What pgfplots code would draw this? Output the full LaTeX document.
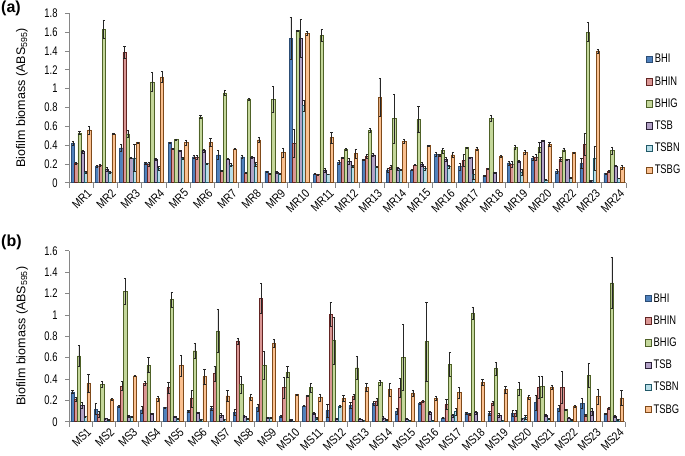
\documentclass[border=0pt]{standalone}
\usepackage{graphicx}
\usepackage{pgfplots}
\usepackage{pgfplotstable}
\pgfplotsset{compat=1.18}
\usepackage{fontspec}
\setmainfont{Liberation Sans}

\definecolor{cA}{HTML}{4F81BD}\definecolor{dA}{HTML}{2C4D75}
\definecolor{cB}{HTML}{DA9694}\definecolor{dB}{HTML}{632523}
\definecolor{cC}{HTML}{C4D79B}\definecolor{dC}{HTML}{4F6228}
\definecolor{cD}{HTML}{B3A2C7}\definecolor{dD}{HTML}{2A2036}
\definecolor{cE}{HTML}{B7DEE8}\definecolor{dE}{HTML}{215968}
\definecolor{cF}{HTML}{FAC090}\definecolor{dF}{HTML}{7F4A1A}
\definecolor{axgray}{HTML}{868686}

% panel (a): MR1..MR20, MR22, MR23, MR24
\pgfplotstableread{
x a ea b eb c ec d ed e ee f ef
0  0.420 0.020 0.205 0.010 0.530 0.020 0.330 0.020 0.110 0.010 0.560 0.040
1  0.177 0.010 0.190 0.010 1.630 0.100 0.145 0.020 0.115 0.010 0.520 0.010
2  0.370 0.040 1.385 0.060 0.520 0.040 0.265 0.010 0.265 0.140 0.425 0.010
3  0.205 0.010 0.200 0.020 1.070 0.100 0.245 0.010 0.150 0.020 1.125 0.060
4  0.425 0.010 0.365 0.005 0.460 0.005 0.340 0.010 0.260 0.010 0.425 0.030
5  0.275 0.020 0.270 0.020 0.700 0.020 0.340 0.020 0.205 0.005 0.430 0.040
6  0.295 0.050 0.130 0.005 0.955 0.030 0.250 0.005 0.190 0.020 0.360 0.005
7  0.275 0.020 0.105 0.005 0.890 0.010 0.270 0.010 0.200 0.020 0.455 0.030
8  0.120 0.005 0.100 0.005 0.885 0.140 0.113 0.010 0.095 0.005 0.320 0.050
9  1.537 0.220 0.420 0.150 1.615 0.010 1.537 0.200 0.820 0.060 1.587 0.020
10 0.095 0.010 0.085 0.005 1.566 0.060 0.130 0.020 0.090 0.005 0.480 0.060
11 0.216 0.020 0.270 0.005 0.354 0.010 0.227 0.030 0.173 0.010 0.310 0.050
12 0.244 0.010 0.283 0.020 0.560 0.020 0.297 0.020 0.173 0.005 0.907 0.200
13 0.135 0.020 0.163 0.020 0.684 0.260 0.149 0.020 0.138 0.005 0.443 0.020
14 0.135 0.005 0.188 0.005 0.673 0.140 0.198 0.020 0.152 0.020 0.393 0.005
15 0.300 0.020 0.294 0.010 0.340 0.030 0.248 0.020 0.170 0.020 0.297 0.030
16 0.170 0.040 0.237 0.060 0.372 0.005 0.270 0.005 0.090 0.050 0.360 0.020
17 0.070 0.005 0.152 0.005 0.684 0.030 0.106 0.010 0.005 0.000 0.280 0.010
18 0.210 0.020 0.195 0.030 0.375 0.020 0.227 0.010 0.110 0.030 0.322 0.020
19 0.260 0.020 0.270 0.030 0.375 0.050 0.450 0.005 0.030 0.005 0.407 0.020
20 0.120 0.020 0.248 0.020 0.350 0.020 0.248 0.005 0.053 0.005 0.320 0.005
21 0.205 0.050 0.407 0.120 1.600 0.100 0.025 0.005 0.260 0.130 1.400 0.020
22 0.100 0.005 0.124 0.010 0.340 0.040 0.178 0.005 0.047 0.005 0.163 0.020
}\tableA

% panel (b): MS1..MS24
\pgfplotstableread{
x a ea b eb c ec d ed e ee f ef
0  0.280 0.010 0.210 0.020 0.615 0.100 0.156 0.030 0.047 0.005 0.360 0.080
1  0.118 0.050 0.070 0.030 0.352 0.030 0.030 0.005 0.015 0.005 0.210 0.010
2  0.143 0.010 0.334 0.040 1.222 0.120 0.047 0.010 0.044 0.005 0.430 0.005
3  0.112 0.030 0.362 0.020 0.530 0.070 0.075 0.005 0.006 0.002 0.215 0.020
4  0.131 0.005 0.320 0.050 1.145 0.070 0.047 0.005 0.030 0.005 0.524 0.100
5  0.094 0.010 0.215 0.080 0.664 0.070 0.084 0.005 0.022 0.005 0.424 0.070
6  0.125 0.020 0.450 0.070 0.850 0.200 0.062 0.020 0.019 0.005 0.243 0.050
7  0.087 0.030 0.752 0.030 0.346 0.080 0.053 0.010 0.030 0.005 0.230 0.030
8  0.131 0.030 1.154 0.140 0.530 0.130 0.040 0.005 0.037 0.005 0.733 0.040
9  0.050 0.010 0.318 0.100 0.465 0.050 0.019 0.005 0.006 0.002 0.256 0.005
10 0.147 0.005 0.246 0.005 0.320 0.040 0.078 0.010 0.030 0.010 0.225 0.030
11 0.106 0.060 1.007 0.110 0.758 0.220 0.028 0.005 0.147 0.010 0.218 0.030
12 0.153 0.030 0.234 0.020 0.505 0.110 0.025 0.005 0.010 0.003 0.321 0.040
13 0.172 0.020 0.187 0.030 0.365 0.020 0.037 0.010 0.015 0.005 0.300 0.060
14 0.097 0.030 0.315 0.090 0.602 0.310 0.025 0.005 0.012 0.003 0.268 0.030
15 0.172 0.010 0.193 0.010 0.752 0.370 0.084 0.010 0.012 0.003 0.218 0.020
16 0.037 0.005 0.162 0.050 0.536 0.110 0.056 0.010 0.094 0.030 0.274 0.050
17 0.078 0.010 0.066 0.010 1.014 0.060 0.084 0.010 0.003 0.001 0.368 0.030
18 0.081 0.020 0.175 0.020 0.496 0.060 0.062 0.020 0.012 0.003 0.300 0.030
19 0.078 0.030 0.078 0.030 0.306 0.060 0.030 0.005 0.040 0.020 0.228 0.020
20 0.181 0.070 0.321 0.100 0.328 0.100 0.059 0.010 0.028 0.005 0.321 0.020
21 0.125 0.030 0.321 0.150 0.115 0.005 0.037 0.005 0.015 0.005 0.143 0.010
22 0.172 0.050 0.059 0.010 0.434 0.110 0.094 0.030 0.006 0.002 0.237 0.070
23 0.075 0.005 0.122 0.010 1.300 0.240 0.053 0.010 0.020 0.005 0.224 0.070
}\tableB

\newcommand{\sq}[1]{\scalebox{0.75}[1]{#1}}
\newcommand{\sx}[1]{\scalebox{0.85}[1]{#1}}

\pgfplotsset{
  panel/.style={
    scale only axis, anchor=south west,
    ybar=0pt,
    ymin=0,
    axis x line*=bottom, axis y line*=left,
    axis line style={draw=axgray, line width=0.6pt},
    every tick/.style={draw=axgray, line width=0.6pt},
    tick align=outside,
    major tick length=4pt, minor tick length=5pt,
    major x tick style={draw=none},
    xtick=data,
    xticklabel style={rotate=45, anchor=east, font=\fontsize{12}{12}\selectfont, inner sep=1pt, xshift=4pt, yshift=-9pt},
    yticklabel style={font=\fontsize{12.5}{12}\selectfont, xshift=-4pt},
    yticklabel={\sq{\pgfmathprintnumber{\tick}}},
    /pgf/number format/assume math mode=true,
    ylabel={Biofilm biomass (ABS\textsubscript{595})},
    ylabel style={font=\fontsize{12.5}{12}\selectfont, at={(axis description cs:-0.0845,0.5)}, anchor=center},
    legend style={draw=none, fill=none, anchor=west,
      font=\fontsize{12.5}{12}\selectfont, row sep=8pt,
      /tikz/every even column/.append style={column sep=1pt}},
    legend cell align=left,
  },
  sqi/.style={legend image code/.code={\draw[##1] (0pt,-3.2pt) rectangle (6.4pt,3.2pt);}},
  eb/.style={error bars/.cd, y dir=both, y explicit,
    error bar style={black!85, line width=0.55pt},
    error mark options={rotate=90, mark size=1.1pt, black!85, line width=0.5pt}},
  sA/.style={fill=cA, draw=dA, line width=0.45pt, sqi, eb},
  sB/.style={fill=cB, draw=dB, line width=0.45pt, sqi, eb},
  sC/.style={fill=cC, draw=dC, line width=0.45pt, sqi, eb},
  sD/.style={fill=cD, draw=dD, line width=0.45pt, sqi, eb},
  sE/.style={fill=cE, draw=dE, line width=0.45pt, sqi, eb},
  sF/.style={fill=cF, draw=dF, line width=0.45pt, sqi, eb},
}

\begin{document}
\begin{tikzpicture}[x=1pt,y=1pt]
\useasboundingbox (0,0) rectangle (685,455);

\node[anchor=north west, inner sep=0pt, font=\bfseries\fontsize{16}{16}\selectfont] at (1,454) {(a)};
\node[anchor=north west, inner sep=0pt, font=\bfseries\fontsize{16}{16}\selectfont] at (1,220) {(b)};

\begin{axis}[panel,
  at={(69pt,272.3pt)}, width=557pt, height=169.4pt,
  bar width=3.3pt,
  xmin=-0.5, xmax=22.5, ymax=1.8,
  ytick={0,0.2,...,1.8},
  minor xtick={-0.5,0.5,...,22.5},
  xticklabels={\sx{MR1},\sx{MR2},\sx{MR3},\sx{MR4},\sx{MR5},\sx{MR6},\sx{MR7},\sx{MR8},\sx{MR9},\sx{MR10},\sx{MR11},\sx{MR12},\sx{MR13},\sx{MR14},\sx{MR15},\sx{MR16},\sx{MR17},\sx{MR18},\sx{MR19},\sx{MR20},\sx{MR22},\sx{MR23},\sx{MR24}},
  legend style={at={(1.03,0.40)}},
]
\addplot[sA] table[x=x,y=a,y error=ea]{\tableA};
\addplot[sB] table[x=x,y=b,y error=eb]{\tableA};
\addplot[sC] table[x=x,y=c,y error=ec]{\tableA};
\addplot[sD] table[x=x,y=d,y error=ed]{\tableA};
\addplot[sE] table[x=x,y=e,y error=ee]{\tableA};
\addplot[sF] table[x=x,y=f,y error=ef]{\tableA};
\legend{\sq{BHI},\sq{BHIN},\sq{BHIG},\sq{TSB},\sq{TSBN},\sq{TSBG}}
\end{axis}

\begin{axis}[panel,
  at={(69pt,33.3pt)}, width=556pt, height=171pt,
  bar width=3.2pt,
  xmin=-0.5, xmax=23.5, ymax=1.6,
  ytick={0,0.2,...,1.6},
  minor xtick={-0.5,0.5,...,23.5},
  xticklabels={\sx{MS1},\sx{MS2},\sx{MS3},\sx{MS4},\sx{MS5},\sx{MS6},\sx{MS7},\sx{MS8},\sx{MS9},\sx{MS10},\sx{MS11},\sx{MS12},\sx{MS13},\sx{MS14},\sx{MS15},\sx{MS16},\sx{MS17},\sx{MS18},\sx{MS19},\sx{MS20},\sx{MS21},\sx{MS22},\sx{MS23},\sx{MS24}},
  legend style={at={(1.03,0.396)}},
]
\addplot[sA] table[x=x,y=a,y error=ea]{\tableB};
\addplot[sB] table[x=x,y=b,y error=eb]{\tableB};
\addplot[sC] table[x=x,y=c,y error=ec]{\tableB};
\addplot[sD] table[x=x,y=d,y error=ed]{\tableB};
\addplot[sE] table[x=x,y=e,y error=ee]{\tableB};
\addplot[sF] table[x=x,y=f,y error=ef]{\tableB};
\legend{\sq{BHI},\sq{BHIN},\sq{BHIG},\sq{TSB},\sq{TSBN},\sq{TSBG}}
\end{axis}
\end{tikzpicture}
\end{document}
